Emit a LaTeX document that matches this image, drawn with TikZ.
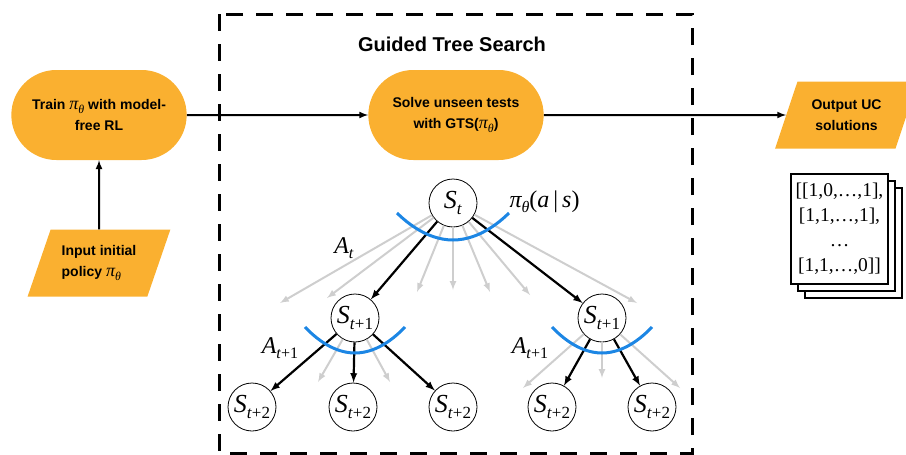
\documentclass[tikz,border=0pt]{standalone}
\usepackage{fontspec}
\setmainfont{Liberation Sans}
\newfontfamily\tms{Liberation Serif}
\usetikzlibrary{arrows, shapes.geometric, shapes.misc}

\definecolor{gtsorange}{RGB}{250,176,48}
\definecolor{gtsblue}{RGB}{28,134,228}
\definecolor{fadegray}{RGB}{206,206,206}

% italic symbol with a lowered index
\newcommand{\tvar}[4]{{\fontsize{#1}{#1}\selectfont\tms\itshape #3}\raisebox{-0.2\dimexpr#1pt\relax}{\fontsize{#2}{#2}\selectfont\tms #4}}
\newcommand{\ptheta}{{\mdseries\tvar{18}{12}{π}{\textit{θ}}}}

\tikzset{
  flow/.style={->, line width=2pt},
  pill/.style={rounded rectangle, fill=gtsorange, minimum width=182pt, minimum height=90pt,
    align=center, font=\bfseries\fontsize{14}{21}\selectfont},
  slanted/.style={trapezium, trapezium left angle=65, trapezium right angle=115,
    trapezium stretches=true, fill=gtsorange, minimum width=143pt, minimum height=67pt,
    font=\bfseries\fontsize{14}{21}\selectfont},
  state/.style={circle, draw, line width=0.8pt, minimum size=48pt, inner sep=0pt},
  pick/.style={->, line width=2.2pt},
  faded/.style={->, fadegray, line width=2pt},
  policy/.style={gtsblue, line width=3pt},
  sheet/.style={draw, fill=white, line width=2.4pt, minimum width=97pt, minimum height=110pt},
  tlabel/.style={font=\tms\fontsize{24}{24}\selectfont},
}

\begin{document}
\begin{tikzpicture}[>=latex, x=1pt, y=-1pt]

\useasboundingbox (0,0) rectangle (906,455);

%\draw[step=50, gray!40] (0,0) grid (906,455);

% search box
\draw[line width=3pt, dash pattern=on 17pt off 13pt] (219,14) rectangle (692,453);
\node[font=\bfseries\fontsize{20}{24}\selectfont] (gtstitle) at (452,44) {Guided Tree Search};

% flow
\node[pill] (train) at (99,115) {Train \ptheta{} with model-\\free RL};
\node[slanted, align=left] (input) at (99,263) {Input initial\\policy \ptheta};
\node[pill] (solve) at (456,115) {Solve unseen tests\\with GTS(\ptheta)};
\node[slanted, align=center] (output) at (846.5,115) {Output UC\\solutions};

\draw[flow] (input) -- (train);
\draw[flow] (train) -- (solve);
\draw[flow] (solve) -- (output);

% solutions
\node[sheet] (sheet3) at (853.5,243) {};
\node[sheet] (sheet2) at (846.5,236) {};
\node[sheet, align=center, font=\tms\fontsize{19.5}{25}\selectfont] (sheet1) at (839.5,229)
  {{[[1,0,\ldots,1],}\\{[1,1,\ldots,1],}\\{\ldots}\\{[1,1,\ldots,0]]}};

% tree
\node[state] (st) at (453,203) {\tvar{26}{17}{S}{\textit{t}}};
\node[state] (l1) at (355,318) {\tvar{26}{17}{S}{\textit{t}+1}};
\node[state] (r1) at (602,318) {\tvar{26}{17}{S}{\textit{t}+1}};
\node[state] (l2a) at (252,407) {\tvar{26}{17}{S}{\textit{t}+2}};
\node[state] (l2b) at (353,407) {\tvar{26}{17}{S}{\textit{t}+2}};
\node[state] (l2c) at (453,407) {\tvar{26}{17}{S}{\textit{t}+2}};
\node[state] (r2a) at (552,407) {\tvar{26}{17}{S}{\textit{t}+2}};
\node[state] (r2b) at (652,407) {\tvar{26}{17}{S}{\textit{t}+2}};

\foreach \x/\y [count=\i] in {280/303, 327/298, 417/292, 453/290, 490/292, 530/295, 637/303}
{
\coordinate (sa\i) at (\x,\y);
\draw[faded] (st) -- (sa\i);
}
\foreach \x/\y [count=\i] in {318/382, 390/382}
{
\coordinate (la\i) at (\x,\y);
\draw[faded] (l1) -- (la\i);
}
\foreach \x/\y [count=\i] in {523/388, 602/378, 680/388}
{
\coordinate (ra\i) at (\x,\y);
\draw[faded] (r1) -- (ra\i);
}

\draw[pick] (st) -- (l1);
\draw[pick] (st) -- (r1);
\foreach \n in {l2a, l2b, l2c}
\draw[pick] (l1) -- (\n);
\foreach \n in {r2a, r2b}
\draw[pick] (r1) -- (\n);

\draw[policy] (397,213) parabola bend (453,240) (509,213);
\draw[policy] (305,327) parabola bend (355,353) (405,327);
\draw[policy] (552,327) parabola bend (602,353) (652,327);

\node[right, tlabel] (pilabel) at (506,202) {\tvar{24}{16}{π}{\textit{θ}}(\textit{a}\,|\,\textit{s})};
\node[tlabel] (at) at (344,248) {\tvar{24}{16}{A}{\textit{t}}};
\node[tlabel] (al) at (280,348) {\tvar{24}{16}{A}{\textit{t}+1}};
\node[tlabel] (ar) at (530,348) {\tvar{24}{16}{A}{\textit{t}+1}};

\end{tikzpicture}
\end{document}
